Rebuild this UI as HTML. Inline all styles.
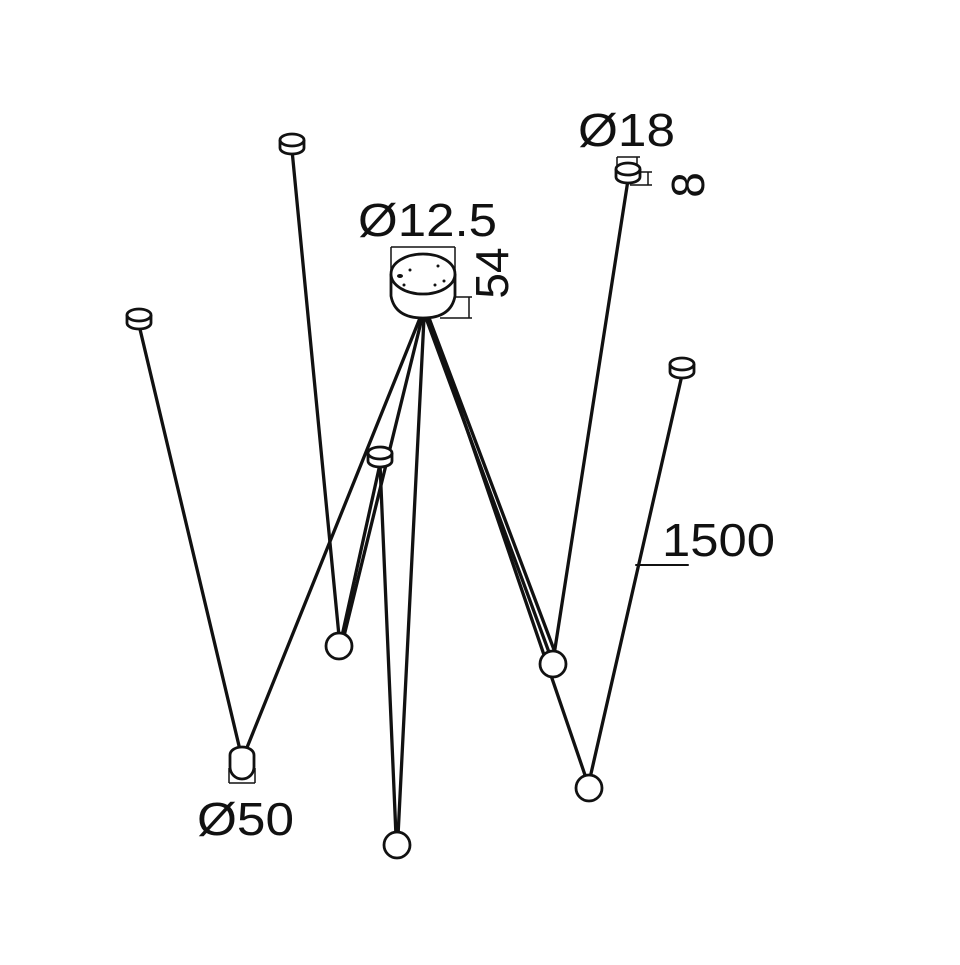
<!DOCTYPE html>
<html><head><meta charset="utf-8"><style>body{margin:0;background:#fff}</style></head><body>
<svg width="960" height="960" viewBox="0 0 960 960" xmlns="http://www.w3.org/2000/svg">
<rect width="960" height="960" fill="#fff"/>
<g stroke="#111" stroke-width="3.3" fill="none" stroke-linecap="round">
<line x1="292" y1="150" x2="339" y2="636"/>
<line x1="139" y1="325" x2="240" y2="750"/>
<line x1="628" y1="180" x2="554" y2="655"/>
<line x1="682" y1="375" x2="590" y2="778"/>
<line x1="380" y1="464" x2="396" y2="836"/>
<line x1="380" y1="464" x2="342" y2="636"/>
<line x1="420" y1="318" x2="246" y2="750"/>
<line x1="422" y1="318" x2="344" y2="636"/>
<line x1="424" y1="318" x2="398" y2="836"/>
<line x1="426" y1="318" x2="550" y2="655"/>
<line x1="429" y1="318" x2="556" y2="655"/>
<line x1="429" y1="318" x2="586" y2="778"/>
<line x1="636" y1="565" x2="688" y2="565" stroke-width="2"/>
</g>
<g stroke="#111" stroke-width="2.8" fill="#fff">
<path d="M391 274 L391 296 Q395 318 423 318 Q451 318 455 296 L455 274"/>
<ellipse cx="423" cy="274" rx="32" ry="20"/>
<g fill="#111" stroke="none"><ellipse cx="400" cy="276" rx="3" ry="2"/><circle cx="410" cy="270" r="1.5"/><circle cx="438" cy="266" r="1.5"/><circle cx="444" cy="281" r="1.5"/><circle cx="404" cy="285" r="1.5"/><circle cx="435" cy="285" r="1.5"/></g>
</g>
<g stroke="#111" stroke-width="1.5" fill="none">
<line x1="391" y1="247" x2="455" y2="247"/><line x1="391" y1="247" x2="391" y2="270"/><line x1="455" y1="247" x2="455" y2="270"/>
<line x1="455" y1="297" x2="472" y2="297"/><line x1="440" y1="318" x2="472" y2="318"/><line x1="469" y1="297" x2="469" y2="318"/>
<line x1="617" y1="157" x2="640" y2="157"/><line x1="617" y1="157" x2="617" y2="172"/><line x1="637" y1="157" x2="637" y2="172"/>
<line x1="630" y1="172" x2="652" y2="172"/><line x1="630" y1="185" x2="652" y2="185"/><line x1="648" y1="172" x2="648" y2="185"/>
<line x1="229" y1="768" x2="229" y2="783"/><line x1="255" y1="768" x2="255" y2="783"/><line x1="229" y1="783" x2="255" y2="783"/>
</g>
<g stroke="#111" stroke-width="2.8" fill="#fff">
<g><path d="M280 140 v8 a12 6 0 0 0 24 0 v-8"/><ellipse cx="292" cy="140" rx="12" ry="6"/></g>
<g><path d="M127 315 v8 a12 6 0 0 0 24 0 v-8"/><ellipse cx="139" cy="315" rx="12" ry="6"/></g>
<g><path d="M616 169 v8 a12 6 0 0 0 24 0 v-8"/><ellipse cx="628" cy="169" rx="12" ry="6"/></g>
<g><path d="M670 364 v8 a12 6 0 0 0 24 0 v-8"/><ellipse cx="682" cy="364" rx="12" ry="6"/></g>
<g><path d="M368 453 v8 a12 6 0 0 0 24 0 v-8"/><ellipse cx="380" cy="453" rx="12" ry="6"/></g>
<circle cx="339" cy="646" r="13"/>
<circle cx="397" cy="845" r="13"/>
<circle cx="553" cy="664" r="13"/>
<circle cx="589" cy="788" r="13"/>
<path d="M230 755 v12 a12 12 0 0 0 24 0 v-12 a12 8 0 0 0 -24 0"/>
</g>
<g font-family="Liberation Sans, sans-serif" fill="#111" font-size="46">
<text x="358" y="236" textLength="139" lengthAdjust="spacingAndGlyphs">Ø12.5</text>
<text x="578" y="146" textLength="97" lengthAdjust="spacingAndGlyphs">Ø18</text>
<text x="197" y="835" textLength="97" lengthAdjust="spacingAndGlyphs">Ø50</text>
<text x="662" y="556" textLength="113" lengthAdjust="spacingAndGlyphs">1500</text>
<text transform="translate(508,273) rotate(-90)" text-anchor="middle">54</text>
<text transform="translate(704,185) rotate(-90)" text-anchor="middle">8</text>
</g>
</svg>
</body></html>
